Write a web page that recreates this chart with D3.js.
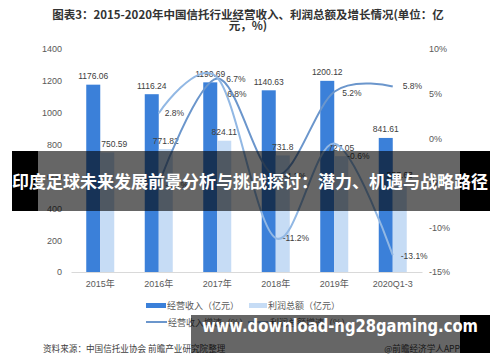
<!DOCTYPE html>
<html>
<head>
<meta charset="utf-8">
<script src="https://cdn.jsdelivr.net/npm/d3@7"></script>
<style>
  body { margin: 0; background: #fff; }
  svg { display: block; font-family: "Liberation Sans", "Noto Sans CJK SC", sans-serif; }
</style>
</head>
<body>
<script>
// chart data
var categories = ["2015年", "2016年", "2017年", "2018年", "2019年", "2020Q1-3"];
var income = [1176.06, 1116.24, 1190.69, 1140.63, 1200.12, 841.61];
var profit = [750.59, 771.82, 824.11, 731.8, 727.05, 557.63];
var incomeGrowth = [null, -5.1, 6.7, -4.2, 5.2, 5.8];
var profitGrowth = [null, 2.8, 6.8, -11.2, -0.6, -13.1];
var leftTicks = [0, 200, 400, 600, 800, 1000, 1200, 1400];
var rightTicks = [-15, -10, -5, 0, 5, 10];

var width = 500, height = 362;

var svg = d3.select("body").append("svg")
    .attr("width", width)
    .attr("height", height);

svg.append("rect").attr("width", width).attr("height", height).attr("fill", "#fff");

//title
var title = svg.append("text")
    .attr("text-anchor", "middle")
    .attr("font-family", "Noto Sans CJK SC")
    .attr("font-weight", "bold")
    .attr("font-size", 11.5)
    .attr("fill", "#333");
title.append("tspan").attr("x", 248).attr("y", 18.5).text("图表3：2015-2020年中国信托行业经营收入、利润总额及增长情况(单位：亿");
title.append("tspan").attr("x", 248).attr("y", 29.5).text("元，%)");

//scales
var x = d3.scaleBand().domain(categories).range([71, 422]);
var xSub = d3.scaleBand().domain(["income", "profit"]).range([0, 28]);
var y = d3.scaleLinear().domain([0, 1400]).range([272, 49]);
var y2 = d3.scaleLinear().domain([-15, 10]).range([272, 49]);

//axes
var leftAxis = svg.append("g")
    .attr("transform", "translate(64,0)")
    .call(d3.axisLeft(y).tickValues(leftTicks).tickSize(0).tickPadding(2).tickFormat(d3.format("d")));
leftAxis.select(".domain").remove();

var rightAxis = svg.append("g")
    .attr("transform", "translate(427,0)")
    .call(d3.axisRight(y2).tickValues(rightTicks).tickSize(0).tickPadding(2).tickFormat(function(d){ return d + "%"; }));
rightAxis.select(".domain").remove();

var bottomAxis = svg.append("g")
    .attr("transform", "translate(0,272)")
    .call(d3.axisBottom(x).tickSize(0).tickSizeOuter(0).tickPadding(9));
bottomAxis.select(".domain").attr("stroke", "#d9d9d9");

svg.selectAll(".tick text")
    .attr("font-family", "Liberation Sans, Noto Sans CJK SC")
    .attr("font-size", 9)
    .attr("fill", "#595959");

//bars
var barW = xSub.bandwidth();
function barX(cat, key){ return x(cat) + x.bandwidth() / 2 - 14 + xSub(key); }

svg.selectAll(".bar-income")
    .data(income)
    .enter().append("rect")
    .attr("class", "bar-income")
    .attr("x", function(d, i){ return barX(categories[i], "income"); })
    .attr("y", function(d){ return y(d); })
    .attr("width", barW)
    .attr("height", function(d){ return y(0) - y(d); })
    .attr("fill", "#3b80d9");

svg.selectAll(".bar-profit")
    .data(profit)
    .enter().append("rect")
    .attr("class", "bar-profit")
    .attr("x", function(d, i){ return barX(categories[i], "profit"); })
    .attr("y", function(d){ return y(d); })
    .attr("width", barW)
    .attr("height", function(d){ return y(0) - y(d); })
    .attr("fill", "#c6dcf5");

//bar value labels
svg.selectAll(".lbl-income")
    .data(income)
    .enter().append("text")
    .attr("class", "lbl-income")
    .attr("x", function(d, i){ return barX(categories[i], "income") + barW / 2; })
    .attr("y", function(d){ return y(d) - 5.5; })
    .attr("text-anchor", "middle")
    .attr("font-size", 8.5)
    .attr("fill", "#404040")
    .text(function(d){ return d; });

svg.selectAll(".lbl-profit")
    .data(profit)
    .enter().append("text")
    .attr("class", "lbl-profit")
    .attr("x", function(d, i){ return barX(categories[i], "profit") + barW / 2 + (i == 0 ? 7 : 0); })
    .attr("y", function(d){ return y(d) - 5.5; })
    .attr("text-anchor", "middle")
    .attr("font-size", 8.5)
    .attr("fill", "#404040")
    .text(function(d){ return d; });

//growth lines
var cx = function(i){ return x(categories[i]) + x.bandwidth() / 2; };
var line = d3.line()
    .defined(function(d){ return d != null; })
    .x(function(d, i){ return cx(i); })
    .y(function(d){ return y2(d); })
    .curve(d3.curveCardinal.tension(0));

svg.append("path")
    .datum(incomeGrowth)
    .attr("d", line)
    .attr("fill", "none")
    .attr("stroke", "#6b96cc")
    .attr("stroke-width", 2);

svg.append("path")
    .datum(profitGrowth)
    .attr("d", line)
    .attr("fill", "none")
    .attr("stroke", "#92b8e4")
    .attr("stroke-width", 2);

//growth labels, small nudges to keep them off the lines
var incomeNudge = {1: [7, 4], 2: [9, 4], 3: [8, 3], 4: [8, 4], 5: [10, 3]};
var profitNudge = {1: [6, 3], 2: [10, 19], 3: [7, 3], 4: [13, 15], 5: [8, 4]};

function growthLabels(data, nudge, cls){
    svg.selectAll("." + cls)
        .data(data.map(function(d, i){ return {v: d, i: i}; }).filter(function(d){ return d.v != null; }))
        .enter().append("text")
        .attr("class", cls)
        .attr("x", function(d){ return cx(d.i) + nudge[d.i][0]; })
        .attr("y", function(d){ return y2(d.v) + nudge[d.i][1]; })
        .attr("font-size", 8.5)
        .attr("fill", "#404040")
        .text(function(d){ return d.v.toFixed(1) + "%"; });
}
growthLabels(incomeGrowth, incomeNudge, "g-income");
growthLabels(profitGrowth, profitNudge, "g-profit");

//legend
var legend = svg.append("g")
    .attr("font-family", "Noto Sans CJK SC")
    .attr("font-size", 9)
    .attr("fill", "#595959");
legend.append("rect").attr("x", 146).attr("y", 303).attr("width", 20).attr("height", 5).attr("fill", "#3b80d9");
legend.append("text").attr("x", 167).attr("y", 308.5).text("经营收入（亿元）");
legend.append("rect").attr("x", 249).attr("y", 303).attr("width", 18).attr("height", 5).attr("fill", "#c6dcf5");
legend.append("text").attr("x", 268).attr("y", 308.5).text("利润总额（亿元）");
legend.append("line").attr("x1", 146).attr("x2", 167).attr("y1", 322).attr("y2", 322).attr("stroke", "#6b96cc").attr("stroke-width", 2);
legend.append("text").attr("x", 168).attr("y", 325.5).text("经营收入增速（%）");
legend.append("line").attr("x1", 248).attr("x2", 268).attr("y1", 322).attr("y2", 322).attr("stroke", "#92b8e4").attr("stroke-width", 2);
legend.append("text").attr("x", 270).attr("y", 325.5).text("利润总额增速（%）");

//source line
svg.append("text")
    .attr("x", 43).attr("y", 352)
    .attr("font-family", "Noto Sans CJK SC")
    .attr("font-size", 8.6)
    .attr("fill", "#404040")
    .text("资料来源：中国信托业协会 前瞻产业研究院整理");
svg.append("text")
    .attr("x", 460).attr("y", 352)
    .attr("text-anchor", "end")
    .attr("font-family", "Noto Sans CJK SC")
    .attr("font-size", 8.6)
    .attr("fill", "#404040")
    .text("@前瞻经济学人APP");

//banner over the middle
svg.append("rect").attr("x", 12).attr("y", 151).attr("width", 26).attr("height", 60).attr("fill", "#000");
svg.append("rect").attr("x", 38).attr("y", 151).attr("width", 422).attr("height", 60).attr("fill", "#000").attr("fill-opacity", 0.6);
svg.append("rect").attr("x", 460).attr("y", 151).attr("width", 30).attr("height", 60).attr("fill", "#000");
svg.append("text")
    .attr("x", 12).attr("y", 188)
    .attr("textLength", 476)
    .attr("lengthAdjust", "spacingAndGlyphs")
    .attr("font-family", "Noto Sans CJK SC")
    .attr("font-weight", "bold")
    .attr("font-size", 17)
    .attr("fill", "#fff")
    .text("印度足球未来发展前景分析与挑战探讨：潜力、机遇与战略路径");

//site box at the bottom
svg.append("rect").attr("x", 191).attr("y", 315).attr("width", 269).attr("height", 38).attr("fill", "#000").attr("fill-opacity", 0.6);
svg.append("rect").attr("x", 460).attr("y", 315).attr("width", 30).attr("height", 38).attr("fill", "#000");
svg.append("text")
    .attr("x", 202).attr("y", 332)
    .attr("textLength", 276)
    .attr("lengthAdjust", "spacingAndGlyphs")
    .attr("font-family", "DejaVu Sans")
    .attr("font-weight", "bold")
    .attr("font-size", 18)
    .attr("fill", "#fff")
    .text("www.download-ng28gaming.com");
</script>
</body>
</html>
